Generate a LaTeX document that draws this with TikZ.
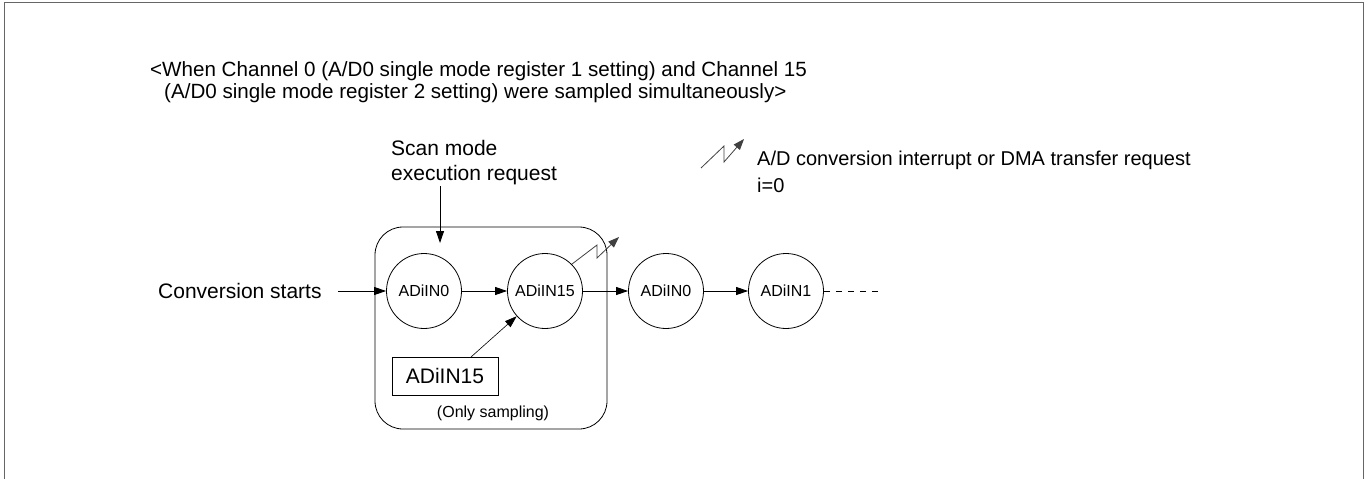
\documentclass[tikz,border=0pt]{standalone}
\usepackage{fontspec}
\setmainfont{Liberation Sans}
\usetikzlibrary{arrows.meta}
\begin{document}
\begin{tikzpicture}[x=1pt,y=-1pt,
  txt/.style={inner sep=0pt,anchor=base west,font=\fontsize{20}{23}\selectfont},
  bigtxt/.style={txt,font=\fontsize{21}{24}\selectfont},
  ttl/.style={txt,font=\fontsize{20.6}{24}\selectfont},
  chan/.style={draw,circle,minimum size=75pt,inner sep=0pt,line width=0.8pt,font=\fontsize{16}{18}\selectfont},
  flow/.style={line width=0.8pt,-{Triangle[length=12pt,width=8pt]}},
  bolt/.style={line width=0.8pt,draw=black!75,-{Triangle[length=11pt,width=8pt]}},
  frame/.style={draw=black!60,line width=1pt}]
\useasboundingbox (0,0) rectangle (1368,479);
% outer frame (open at bottom)
\draw[frame] (4,479) -- (4,2) -- (1363,2) -- (1363,479);
% title
\node[ttl] (t1) at (150,76) {<When Channel 0 (A/D0 single mode register 1 setting) and Channel 15};
\node[ttl] (t2) at (164,98) {(A/D0 single mode register 2 setting) were sampled simultaneously>};
% scan mode label
\node[bigtxt] (s1) at (391,155) {Scan mode};
\node[bigtxt] (s2) at (391,180) {execution request};
% legend
\coordinate (l0) at (701,168);
\coordinate (l1) at (724,146);
\coordinate (l2) at (724,162);
\coordinate (l3) at (744,139);
\draw[bolt] (l0) -- (l1) -- (l2) -- (l3);
\node[txt] (lg1) at (757,165) {A/D conversion interrupt or DMA transfer request};
\node[txt] (lg2) at (757,192) {i=0};
% scan mode group box
\draw[line width=0.8pt,rounded corners=28pt] (375,227) rectangle (607,429);
\node[font=\fontsize{16}{18}\selectfont,inner sep=0pt] (only) at (493,413) {(Only sampling)};
% channels
\node[chan] (c0) at (424,291) {ADiIN0};
\node[chan] (c15) at (545,291) {ADiIN15};
\node[chan] (c0b) at (666,291) {ADiIN0};
\node[chan] (c1) at (786,291) {ADiIN1};
\node[draw,line width=0.8pt,minimum width=106pt,minimum height=38pt,inner sep=0pt,font=\fontsize{21}{24}\selectfont] (r15) at (445,376) {ADiIN15};
% conversion starts
\node[bigtxt] (conv) at (158,298) {Conversion starts};
\coordinate (cs) at (338,291);
\draw[flow] (cs) -- (c0);
% scan request arrow
\coordinate (sa) at (440,186);
\coordinate (sb) at (440,243);
\draw[flow] (sa) -- (sb);
% flow arrows
\draw[flow] (c0) -- (c15);
\draw[flow] (c15) -- (c0b);
\draw[flow] (c0b) -- (c1);
\coordinate (dend) at (880,291);
\draw[line width=0.8pt,dash pattern=on 6pt off 6pt] (c1.east) -- (dend);
% sampling arrow
\coordinate (rt) at (471,357);
\draw[flow,line width=0.6pt] (rt) -- (c15);
% interrupt bolt
\coordinate (b1) at (597,245);
\coordinate (b2) at (597,258);
\coordinate (b3) at (619,237);
\draw[bolt] (c15.45) -- (b1) -- (b2) -- (b3);
\end{tikzpicture}
\end{document}
